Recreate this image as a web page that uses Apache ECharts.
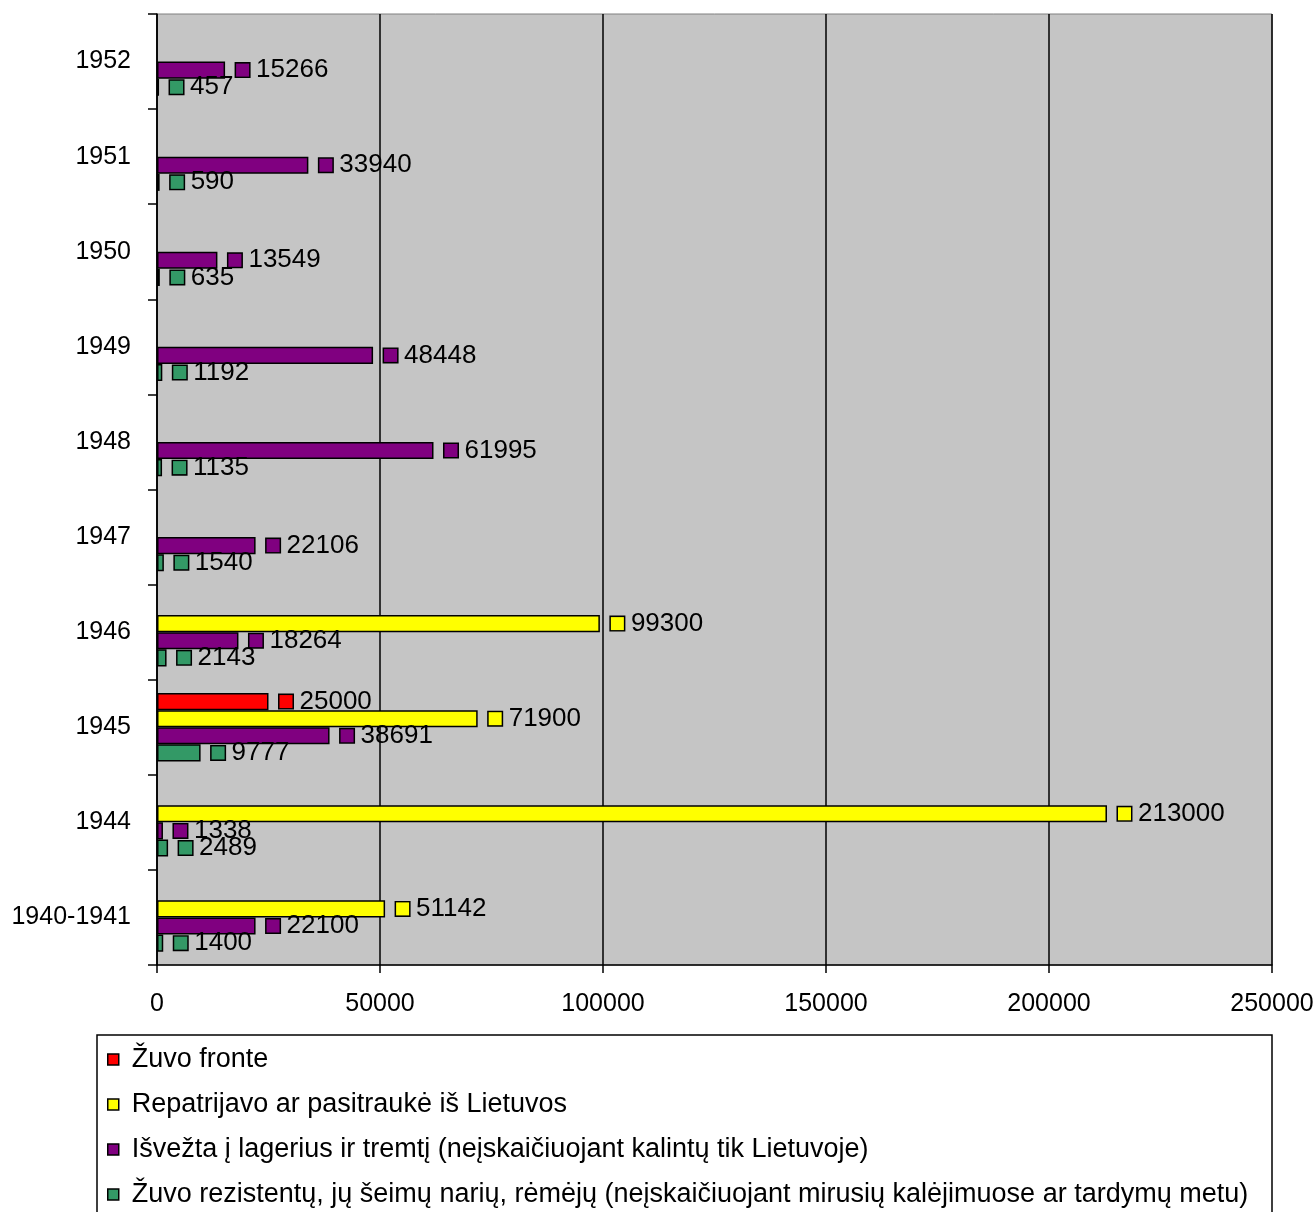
<!DOCTYPE html>
<html>
<head>
<meta charset="utf-8">
<script src="https://cdn.jsdelivr.net/npm/echarts@6/dist/echarts.min.js"></script>
<style>
html,body{margin:0;padding:0;background:#fff;}
#chart{width:1316px;height:1212px;}
</style>
</head>
<body>
<div id="chart"></div>
<script>
const categories = ['1940-1941','1944','1945','1946','1947','1948','1949','1950','1951','1952'];
const seriesNames = [
  'Žuvo fronte',
  'Repatrijavo ar pasitraukė iš Lietuvos',
  'Išvežta į lagerius ir tremtį (neįskaičiuojant kalintų tik Lietuvoje)',
  'Žuvo rezistentų, jų šeimų narių, rėmėjų (neįskaičiuojant mirusių kalėjimuose ar tardymų metu)'
];
const zuvoFronte   = [null, null, 25000, null, null, null, null, null, null, null];
const repatrijavo  = [51142, 213000, 71900, 99300, null, null, null, null, null, null];
const isvezta      = [22100, 1338, 38691, 18264, 22106, 61995, 48448, 13549, 33940, 15266];
const zuvoRezist   = [1400, 2489, 9777, 2143, 1540, 1135, 1192, 635, 590, 457];
const xTicks = [0, 50000, 100000, 150000, 200000, 250000];

const colors = ['#FF0000', '#FFFF00', '#800080', '#339966'];
const FONT = '"Liberation Sans", Arial, sans-serif';

function makeSeries(name, data, color) {
  return {
    name: name,
    type: 'bar',
    data: data,
    barGap: '0%',
    barCategoryGap: '28%',
    itemStyle: { color: color, borderColor: '#000', borderWidth: 1.5 },
    label: {
      show: true,
      position: 'right',
      distance: 11,
      formatter: function (p) { return '{s|}{v|' + p.value + '}'; },
      rich: {
        s: { width: 13, height: 13, backgroundColor: color, borderColor: '#000', borderWidth: 1.5 },
        v: { fontSize: 26, fontFamily: FONT, color: '#000', padding: [0, 0, 0, 7] }
      }
    }
  };
}

const chart = echarts.init(document.getElementById('chart'));
chart.setOption({
  animation: false,
  backgroundColor: '#fff',
  grid: {
    left: 157, right: 44, top: 14, bottom: 247,
    outerBoundsMode: 'none',
    containLabel: false,
    show: true, backgroundColor: '#C5C5C5', borderColor: '#808080', borderWidth: 1
  },
  xAxis: {
    type: 'value',
    min: xTicks[0], max: xTicks[xTicks.length - 1], interval: 50000,
    axisLine: { show: true, lineStyle: { color: '#000', width: 1.5 } },
    axisTick: { show: true, length: 8, lineStyle: { color: '#000', width: 1.5 } },
    splitLine: { show: true, lineStyle: { color: '#000', width: 1.5 } },
    axisLabel: { color: '#000', fontSize: 25, fontFamily: FONT, margin: 27,
      formatter: function (v) { return String(v); } }
  },
  yAxis: {
    type: 'category',
    data: categories,
    axisLine: { show: true, lineStyle: { color: '#000', width: 1.5 } },
    axisTick: { show: true, length: 9, lineStyle: { color: '#000', width: 1.5 } },
    splitLine: { show: false },
    axisLabel: { color: '#000', fontSize: 25, fontFamily: FONT, margin: 26 }
  },
  legend: {
    orient: 'vertical',
    left: 107, top: 1046,
    padding: 0,
    itemGap: 18,
    itemWidth: 11, itemHeight: 11,
    icon: 'rect',
    itemStyle: { borderColor: '#000', borderWidth: 1.5 },
    data: seriesNames,
    textStyle: { color: '#000', fontSize: 27, fontFamily: FONT, lineHeight: 27, padding: [0, 0, 0, 8] }
  },
  graphic: [{
    type: 'rect',
    z: -1,
    shape: { x: 97, y: 1035, width: 1175, height: 200 },
    style: { fill: '#fff', stroke: '#000', lineWidth: 1.5 }
  }],
  series: [
    makeSeries(seriesNames[0], zuvoFronte, colors[0]),
    makeSeries(seriesNames[1], repatrijavo, colors[1]),
    makeSeries(seriesNames[2], isvezta, colors[2]),
    makeSeries(seriesNames[3], zuvoRezist, colors[3])
  ]
});
</script>
</body>
</html>
